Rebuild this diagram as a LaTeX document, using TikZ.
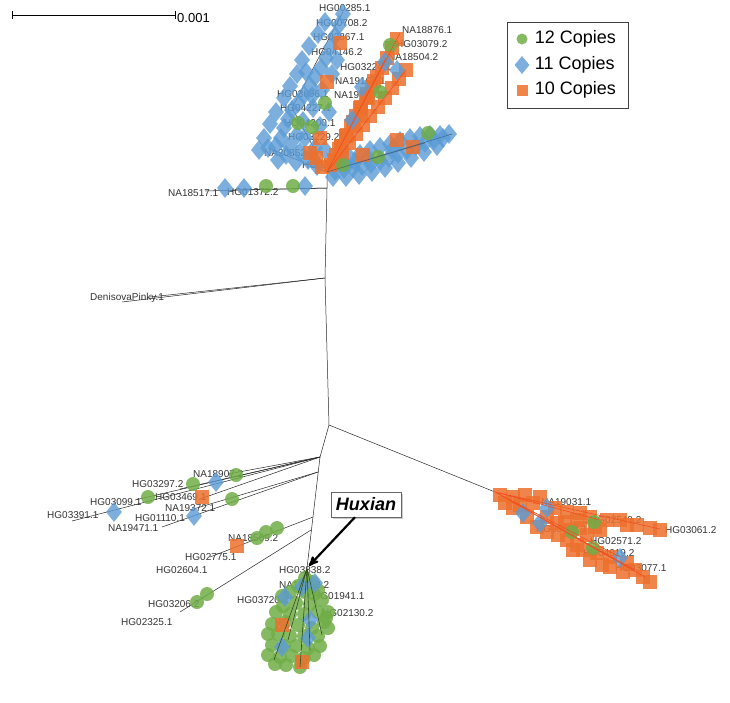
\documentclass[tikz,border=0pt]{standalone}
\usepackage{fontspec}
\setmainfont{Liberation Sans}
\usepackage{tikz}
\usetikzlibrary{arrows}
\usetikzlibrary{calc}
\usetikzlibrary{positioning}
\usetikzlibrary{shadows}
\usetikzlibrary{shapes.geometric}
\definecolor{copygreen}{RGB}{112,173,71}
\definecolor{copyblue}{RGB}{91,155,213}
\definecolor{copyorange}{RGB}{237,112,45}
\tikzset{legendtext/.style={font=\fontsize{18}{18}\selectfont,inner sep=0pt}}

\begin{document}
\begin{tikzpicture}[x=1pt,y=-1pt,
    twelve/.style={circle,fill=copygreen,fill opacity=0.85,
      minimum size=14pt,inner sep=0pt},
    eleven/.style={diamond,fill=copyblue,fill opacity=0.8,
      minimum width=16pt,minimum height=20pt,inner sep=0pt},
    ten/.style={rectangle,fill=copyorange,fill opacity=0.85,
      minimum size=14pt,inner sep=0pt},
    branch/.style={draw=black!85,line width=0.5pt},
    leaflabel/.style={font=\fontsize{10}{10}\selectfont,
      text=black!80,inner sep=0pt,anchor=west}]

    \useasboundingbox (0,0) rectangle (730,702);

    % backbone of the tree
    \coordinate (TopHub) at (327,172);
    \coordinate (TopJoin) at (327,188);
    \coordinate (DenisovaJoin) at (325,278);
    \coordinate (MidJoin) at (329,425);
    \coordinate (LowJoin) at (320,457);
    \coordinate (HuxTop) at (307,568);
    \coordinate (RightJoin) at (495,492);
    \coordinate (J472) at (318,472);
    \coordinate (J517) at (313,517);
    \coordinate (J530) at (311,530);

    % tips
    \coordinate (DenisovaTip) at (122,302);
    \coordinate (DenisovaTipB) at (150,297);
    \coordinate (TipNA18517) at (205,191);
    \coordinate (TipHG01372) at (232,190);
    \coordinate (BlueBend) at (292,108);
    \coordinate (BlueTip) at (343,12);
    \coordinate (BlueLeftTip) at (268,148);
    \coordinate (OrangeTip) at (400,33);
    \coordinate (OrangeTipB) at (406,70);
    \coordinate (OrangeTipC) at (386,58);
    \coordinate (OrangeTipD) at (372,90);
    \coordinate (RightTip) at (452,134);
    \coordinate (RightTipB) at (425,143);
    \coordinate (TipHG03391) at (72,521);
    \coordinate (TipHG03099) at (135,500);
    \coordinate (TipHG03297) at (180,489);
    \coordinate (TipNA18907) at (228,474);
    \coordinate (TipHG03469) at (200,499);
    \coordinate (TipNA19372) at (190,510);
    \coordinate (TipNA19471) at (162,527);
    \coordinate (TipHG02775) at (210,557);
    \coordinate (TipHG03206) at (180,612);
    \coordinate (TipHG03061) at (660,529);
    \coordinate (TipHG03077) at (645,577);

    \draw[branch] (TopHub) -- (TopJoin) -- (DenisovaJoin) -- (MidJoin)
      -- (LowJoin) -- (HuxTop);
    \draw[branch] (MidJoin) -- (RightJoin);
    \draw[branch] (DenisovaJoin) -- (DenisovaTip);
    \draw[branch] (DenisovaJoin) -- (DenisovaTipB);
    \draw[branch] (TopJoin) -- (TipNA18517);
    \draw[branch] (TopJoin) -- (TipHG01372);
    \draw[branch] (TopHub) -- (BlueBend) -- (BlueTip);
    \draw[branch] (TopHub) -- (BlueLeftTip);
    \draw[branch] (TopHub) -- (RightTip);
    \draw[branch] (LowJoin) -- (TipHG03391);
    \draw[branch] (LowJoin) -- (TipHG03099);
    \draw[branch] (LowJoin) -- (TipHG03297);
    \draw[branch] (LowJoin) -- (TipNA18907);
    \draw[branch] (LowJoin) -- (TipHG03469);
    \draw[branch] (J472) -- (TipNA19372);
    \draw[branch] (J472) -- (TipNA19471);
    \draw[branch] (J517) -- (TipHG02775);
    \draw[branch] (J530) -- (TipHG03206);

    % leaf labels
    \node[leaflabel] (HG00285) at (319,8) {HG00285.1};
    \node[leaflabel] (HG00708) at (316,23) {HG00708.2};
    \node[leaflabel] (HG02867) at (313,37) {HG02867.1};
    \node[leaflabel] (HG04146) at (311,52) {HG04146.2};
    \node[leaflabel] (NA18876) at (402,30) {NA18876.1};
    \node[leaflabel] (HG03079) at (396,44) {HG03079.2};
    \node[leaflabel] (NA18504) at (388,57) {NA18504.2};
    \node[leaflabel] (HG03224) at (340,67) {HG03224.1};
    \node[leaflabel] (NA19107) at (335,81) {NA19107.1};
    \node[leaflabel] (HG03696) at (277,94) {HG03696.1};
    \node[leaflabel] (NA19700) at (334,95) {NA19700.1};
    \node[leaflabel] (HG04227) at (280,108) {HG04227.1};
    \node[leaflabel] (HG04200) at (284,123) {HG04200.1};
    \node[leaflabel] (HG03229) at (288,137) {HG03229.2};
    \node[leaflabel] (NA20852) at (264,153) {NA20852.1};
    \node[leaflabel] (HG03885) at (302,165) {HG03885.1};
    \node[leaflabel] (NA18517) at (168,193) {NA18517.1};
    \node[leaflabel] (HG01372) at (227,192) {HG01372.2};
    \node[leaflabel] (DenisovaPinky) at (90,298) {DenisovaPinky.1};
    \node[leaflabel] (NA18907) at (193,474) {NA18907.2};
    \node[leaflabel] (HG03297) at (132,484) {HG03297.2};
    \node[leaflabel] (HG03469) at (155,497) {HG03469.1};
    \node[leaflabel] (HG03099) at (90,502) {HG03099.1};
    \node[leaflabel] (NA19372) at (165,508) {NA19372.1};
    \node[leaflabel] (HG03391) at (47,515) {HG03391.1};
    \node[leaflabel] (HG01110) at (135,518) {HG01110.1};
    \node[leaflabel] (NA19471) at (108,528) {NA19471.1};
    \node[leaflabel] (NA18509) at (228,538) {NA18509.2};
    \node[leaflabel] (HG02775) at (185,557) {HG02775.1};
    \node[leaflabel] (HG02604) at (156,570) {HG02604.1};
    \node[leaflabel] (HG03206) at (148,604) {HG03206.2};
    \node[leaflabel] (HG02325) at (121,622) {HG02325.1};
    \node[leaflabel] (HG03838) at (279,570) {HG03838.2};
    \node[leaflabel] (NA18852) at (279,585) {NA18852.2};
    \node[leaflabel] (HG03720) at (237,600) {HG03720.1};
    \node[leaflabel] (HG01941) at (313,596) {HG01941.1};
    \node[leaflabel] (HG02130) at (322,613) {HG02130.2};
    \node[leaflabel] (NA19031) at (541,502) {NA19031.1};
    \node[leaflabel] (HG02549) at (590,520) {HG02549.2};
    \node[leaflabel] (HG03061) at (665,530) {HG03061.2};
    \node[leaflabel] (HG03502) at (536,529) {HG03502.1};
    \node[leaflabel] (HG02571) at (590,541) {HG02571.2};
    \node[leaflabel] (HG04019) at (583,553) {HG04019.2};
    \node[leaflabel] (HG03077) at (615,568) {HG03077.1};

    % top cluster
    \foreach \x/\y [count=\i] in {343/14,339/25,335/36,331/47,337/60,
        326/58,321/68,332/74,315/77,310/86,322/90,304/95,298/103,313/108,
        292/110,288/119,303/121,284/128,297/135,281/138,290/146,276/146,
        268/148,300/152,286/155,308/160,317/166,296/162,329/112,320/126,
        325/22,318/34,309/46,302/60,297/74,290/86,284/98,276/112,270/124,
        264/138,259/150,278/160,315/148,305/138,325/150,312/96,306/72}
      \node[eleven] (TopBlue\i) at (\x,\y) {};
    \foreach \x/\y [count=\i] in {335/171,344/169,353/168,362/166,371/164,
        380/161,389/158,398/154,350/158,360/154,370/150,380/147,390/144,
        400/141,410/138,420/136,430/135,440/135,449/134,407/150,416/146,
        425/143,434/140,443/138,342/162,333/177,346/177,359/175,372/172,
        385/168,398/163,411/158,424/152,437/146,355/162,368/158,392/150}
      \node[eleven] (RightBlue\i) at (\x,\y) {};
    \foreach \t [count=\i] in {0.05,0.12,...,1.0}
      \node[ten] (OrangeA\i) at ($(TopHub)!\t!(OrangeTip)$) {};
    \foreach \t [count=\i] in {0.1,0.19,...,1.0}
      \node[ten] (OrangeB\i) at ($(TopHub)!\t!(OrangeTipB)$) {};
    \foreach \t [count=\i] in {0.2,0.32,...,0.9}
      \node[ten] (OrangeC\i) at ($(TopHub)!\t!(OrangeTipC)$) {};
    \foreach \t [count=\i] in {0.15,0.3,...,1.0}
      \node[ten] (OrangeD\i) at ($(TopHub)!\t!(OrangeTipD)$) {};
    \foreach \x/\y [count=\i] in {340/43,327/82,320/138,310/153,322/167,
        363/155,397/140,413/147,316/158}
      \node[ten] (TopOrange\i) at (\x,\y) {};
    \foreach \x/\y [count=\i] in {397/70,362/87,352/120,385/62,
        225/188,244/188,305/186}
      \node[eleven] (OrangeBlue\i) at (\x,\y) {};
    \foreach \x/\y [count=\i] in {325/103,312/127,298/123,390/45,380/92,
        428/133,378/157,343/165,266/186,293/186}
      \node[twelve] (TopGreen\i) at (\x,\y) {};
    \draw[copyorange!70!red,line width=0.6pt] (TopHub) -- (OrangeTip)
      (TopHub) -- (OrangeTipB) (TopHub) -- (OrangeTipC);
    \draw[copyblue!50!black,line width=0.5pt,opacity=0.6] (TopHub) -- (RightTip)
      (TopHub) -- (RightTipB);

    % lower left branches
    \foreach \x/\y [count=\i] in {148/497,193/484,236/475,232/499,257/538,
        266/532,277/528,197/602,207/594}
      \node[twelve] (LeftGreen\i) at (\x,\y) {};
    \foreach \x/\y [count=\i] in {114/512,216/482,194/516}
      \node[eleven] (LeftBlue\i) at (\x,\y) {};
    \foreach \x/\y [count=\i] in {202/497,237/546}
      \node[ten] (LeftOrange\i) at (\x,\y) {};

    % Huxian cluster
    \foreach \x/\y [count=\i] in {305/578,312/582,298/586,318/590,290/592,
        305/592,322/600,283/606,296/603,310/604,276/612,290/614,304/614,
        318/612,328/612,272/624,285/622,298/625,312/628,324/622,278/634,
        290/636,304/636,318/636,328/628,272/645,284/646,296/646,308/648,
        320/646,268/655,280/657,292/656,304/658,275/664,300/667,314/655,
        286/665,282/596,314/594,326/618,268/634}
      \node[twelve] (HuxGreen\i) at (\x,\y) {};
    \foreach \x/\y [count=\i] in {285/597,302/587,315/583,310/620,308/638,
        282/647}
      \node[eleven] (HuxBlue\i) at (\x,\y) {};
    \foreach \x/\y [count=\i] in {282/625,302/662}
      \node[ten] (HuxOrange\i) at (\x,\y) {};
    \draw[copygreen!45!black,line width=0.6pt] (HuxTop) -- (274,660)
      (HuxTop) -- (300,667) (HuxTop) -- (288,640) (HuxTop) -- (322,635)
      (HuxTop) -- (310,650);

    % right cluster
    \foreach \x/\y [count=\i] in {500/495,513/497,525/495,533/503,513/508,
        555/508,567/512,580/513,577/520,607/520,620/520,637/525,650/528,
        660/530,627/525,537/527,547/532,558/535,567/540,577/545,583/550,
        597/553,610/557,627/563,635/570,643/577,557/523,547/517,570/530,
        587/535,580/528,573/550,610/567,623/572,505/503,520/505,595/527,
        650/582,540/497,590/517,600/530,565/522,527/517,590/560,602/565}
      \node[ten] (RightOrange\i) at (\x,\y) {};
    \foreach \x/\y [count=\i] in {547/508,523/513,540/523,620/558}
      \node[eleven] (RightDiamond\i) at (\x,\y) {};
    \foreach \x/\y [count=\i] in {594/522,572/532,593/548}
      \node[twelve] (RightGreen\i) at (\x,\y) {};
    \draw[copyorange!70!red,line width=0.6pt] (RightJoin) -- (TipHG03061)
      (RightJoin) -- (TipHG03077) (RightJoin) -- (620,557)
      (RightJoin) -- (600,520) (RightJoin) -- (635,570);

    % legend
    \node[draw=black!75,line width=0.6pt,minimum width=121pt,
      minimum height=86pt,inner sep=0pt] (Legend) at (567.5,65) {};
    \node[twelve,minimum size=11pt] (LegTwelve) at (522,39) {};
    \node[eleven,minimum width=15pt,minimum height=18pt] (LegEleven) at (522,65) {};
    \node[ten,minimum size=11pt] (LegTen) at (522,90) {};
    \node[legendtext,right=7pt of LegTwelve] (LegTwelveText) {12 Copies};
    \node[legendtext,right=5pt of LegEleven] (LegElevenText) {11 Copies};
    \node[legendtext,right=7pt of LegTen] (LegTenText) {10 Copies};

    % scale bar
    \coordinate (ScaleL) at (12,15);
    \coordinate (ScaleR) at (175,15);
    \draw[line width=0.7pt] (ScaleL) -- (ScaleR);
    \draw[line width=0.7pt] (ScaleL) ++(0,-4) -- ++(0,8);
    \draw[line width=0.7pt] (ScaleR) ++(0,-4) -- ++(0,8);
    \node[font=\fontsize{13}{13}\selectfont,inner sep=0pt,anchor=west]
      (ScaleText) at (177,18) {0.001};

    % Huxian pointer
    \node[draw=black!60,fill=white,inner xsep=5pt,inner ysep=3pt,
      minimum height=25pt,
      drop shadow={shadow xshift=2pt,shadow yshift=-2pt,opacity=0.4},
      font=\fontsize{18}{18}\selectfont\bfseries\itshape]
      (Huxian) at (366,504.5) {Huxian};
    \draw[->,>=stealth',line width=2.2pt,shorten >=3pt]
      (Huxian.229) -- (HuxTop);

  \end{tikzpicture}
\end{document}
